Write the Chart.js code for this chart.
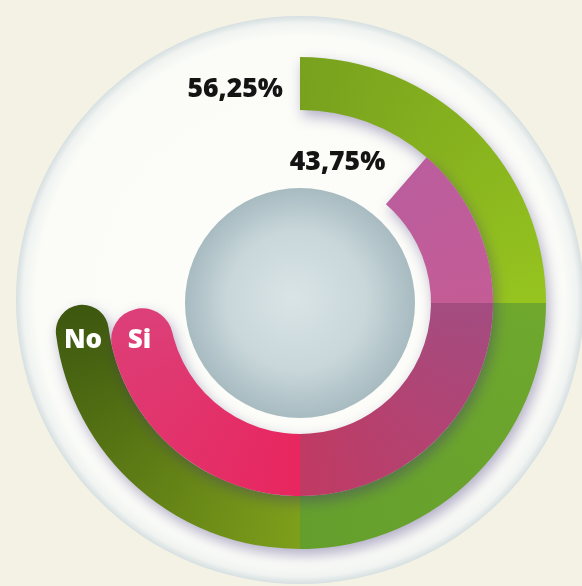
<!DOCTYPE html>
<html>
<head>
<meta charset="utf-8">
<script src="https://cdn.jsdelivr.net/npm/chart.js@4.4.1/dist/chart.umd.min.js"></script>
<style>
  html, body { margin: 0; padding: 0; background: #f4f2e5; }
  #wrap { width: 582px; height: 586px; position: relative; }
</style>
</head>
<body>
<div id="wrap"><canvas id="chart"></canvas></div>
<script>
const categories = ['No', 'Si'];
const values = [56.25, 43.75];
const valueLabels = ['56,25%', '43,75%'];

// ring layout (degrees clockwise from 12 o'clock)
const ringStart = [0, 41];
const ringSweep = [269.5, 227];
const ringWeight = [53, 62];
const valueOffset = [[-17, 13.5], [-21, -11]];
const capOffset = [[0.7, 16.7], [-2.6, 8.6]];

const greenStops = [[0, '#78a11e'], [0.25, '#96c41f'], [0.25, '#6fa82d'], [0.5, '#649f2d'],
    [0.5, '#7d9f1b'], [0.75, '#3c560f'], [1, '#3c560f']];
const pinkStops = [[0, '#b45ea3'], [0.25, '#c45c96'], [0.25, '#a44c81'], [0.5, '#c03a63'],
    [0.5, '#e8265f'], [0.75, '#dc4079'], [1, '#dc4079']];

function conic(stops) {
    return function (ctx) {
        const chart = ctx.chart;
        const a = chart.chartArea;
        if (!a) return stops[0][1];
        const cx = (a.left + a.right) / 2, cy = (a.top + a.bottom) / 2;
        const g = chart.ctx.createConicGradient(-Math.PI / 2, cx, cy);
        stops.forEach(s => g.addColorStop(s[0], s[1]));
        return g;
    };
}

// white plate + grey hub behind the rings
const backdrop = {
    id: 'backdrop',
    beforeDatasetsDraw(chart) {
        const { ctx, chartArea: a } = chart;
        const cx = (a.left + a.right) / 2, cy = (a.top + a.bottom) / 2;
        ctx.save();
        const px = cx, py = cy - 3, pr = 284;
        const g = ctx.createRadialGradient(px, py, 0, px, py, pr);
        g.addColorStop(0, '#fdfdf9');
        g.addColorStop(0.93, '#fbfcf8');
        g.addColorStop(0.975, '#f0f3f1');
        g.addColorStop(1, '#d6dfe1');
        ctx.fillStyle = g;
        ctx.beginPath();
        ctx.arc(px, py, pr, 0, Math.PI * 2);
        ctx.fill();

        const hr = 115;
        const h = ctx.createRadialGradient(cx - 8, cy - 6, 0, cx, cy, hr);
        h.addColorStop(0, '#d9e4e6');
        h.addColorStop(0.6, '#c9d7da');
        h.addColorStop(1, '#a7bbc1');
        ctx.fillStyle = h;
        ctx.beginPath();
        ctx.arc(cx, cy, hr, 0, Math.PI * 2);
        ctx.fill();
        ctx.restore();
    }
};

const ringShadow = {
    id: 'ringShadow',
    beforeDatasetDraw(chart) {
        const ctx = chart.ctx;
        ctx.save();
        ctx.shadowColor = 'rgba(60,45,120,0.38)';
        ctx.shadowBlur = 14;
        ctx.shadowOffsetX = 3;
        ctx.shadowOffsetY = 6;
    },
    afterDatasetDraw(chart) {
        chart.ctx.restore();
    }
};

const ringLabels = {
    id: 'ringLabels',
    afterDatasetsDraw(chart) {
        const ctx = chart.ctx;
        ctx.save();
        chart.data.datasets.forEach((ds, i) => {
            const arc = chart.getDatasetMeta(i).data[0];
            if (!arc) return;
            const rc = (arc.innerRadius + arc.outerRadius) / 2;
            const half = (arc.outerRadius - arc.innerRadius) / 2;

            const sx = arc.x + rc * Math.cos(arc.startAngle);
            const sy = arc.y + rc * Math.sin(arc.startAngle);
            ctx.font = '800 26.5px "Open Sans"';
            ctx.fillStyle = '#141414';
            ctx.textAlign = 'right';
            ctx.textBaseline = 'alphabetic';
            ctx.fillText(valueLabels[i], sx + valueOffset[i][0], sy + valueOffset[i][1]);

            const ea = arc.endAngle - Math.asin(half / rc);
            const ex = arc.x + rc * Math.cos(ea);
            const ey = arc.y + rc * Math.sin(ea);
            ctx.font = '800 26px "Open Sans"';
            ctx.fillStyle = '#ffffff';
            ctx.textAlign = 'center';
            ctx.fillText(categories[i], ex + capOffset[i][0], ey + capOffset[i][1]);
        });
        ctx.restore();
    }
};

new Chart(document.getElementById('chart'), {
    type: 'doughnut',
    data: {
        labels: [''],
        datasets: categories.map((c, i) => ({
            label: c,
            data: [values[i]],
            backgroundColor: conic(i === 0 ? greenStops : pinkStops),
            borderWidth: 0,
            borderRadius: { outerStart: 0, innerStart: 0, outerEnd: 999, innerEnd: 999 },
            rotation: ringStart[i],
            circumference: ringSweep[i],
            weight: ringWeight[i],
            order: i === 0 ? 1 : 0
        }))
    },
    options: {
        responsive: true,
        maintainAspectRatio: false,
        animation: false,
        events: [],
        radius: 246,
        cutout: '53.25%',
        layout: { padding: { left: 18, top: 20, right: 0, bottom: 0 } },
        plugins: { legend: { display: false }, tooltip: { enabled: false } }
    },
    plugins: [backdrop, ringShadow, ringLabels]
});
</script>
</body>
</html>
